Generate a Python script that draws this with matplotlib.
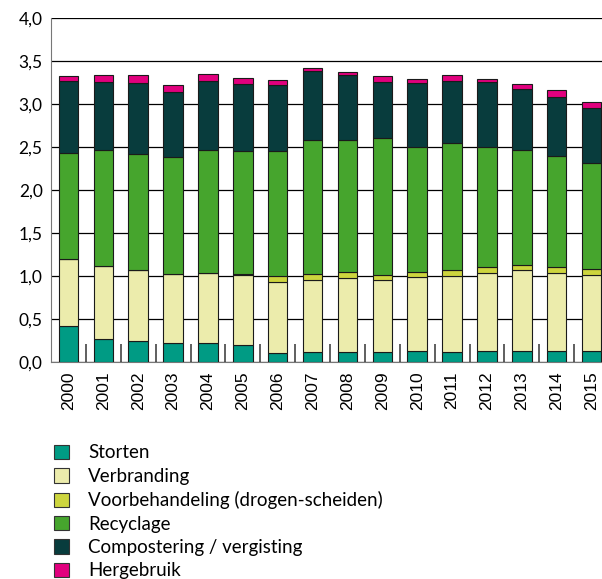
import matplotlib.pyplot as plt
from matplotlib.patches import Patch
from matplotlib.ticker import FixedLocator

jaren = [str(j) for j in range(2000, 2016)]

# hoeveelheden per verwerkingswijze
storten = [0.415, 0.264, 0.241, 0.221, 0.221, 0.202, 0.109, 0.120,
           0.120, 0.120, 0.124, 0.120, 0.124, 0.132, 0.124, 0.124]
verbranding = [0.785, 0.851, 0.831, 0.808, 0.816, 0.804, 0.823, 0.831,
               0.851, 0.831, 0.859, 0.878, 0.913, 0.936, 0.913, 0.890]
voorbehandeling = [0.0, 0.0, 0.0, 0.0, 0.0, 0.023, 0.066, 0.078,
                   0.074, 0.063, 0.069, 0.066, 0.062, 0.062, 0.070, 0.062]
recyclage = [1.227, 1.347, 1.347, 1.352, 1.425, 1.421, 1.452, 1.554,
             1.538, 1.596, 1.453, 1.480, 1.406, 1.332, 1.289, 1.242]
compostering = [0.843, 0.796, 0.824, 0.761, 0.804, 0.781, 0.769, 0.803,
                0.757, 0.648, 0.738, 0.726, 0.753, 0.715, 0.687, 0.633]
hergebruik = [0.054, 0.078, 0.093, 0.077, 0.082, 0.074, 0.063, 0.031,
              0.031, 0.066, 0.047, 0.066, 0.032, 0.054, 0.082, 0.078]

series = [
    ("Storten", storten, "#009b84"),
    ("Verbranding", verbranding, "#ececac"),
    ("Voorbehandeling (drogen-scheiden)", voorbehandeling, "#cdd53e"),
    ("Recyclage", recyclage, "#46a52d"),
    ("Compostering / vergisting", compostering, "#083c3d"),
    ("Hergebruik", hergebruik, "#e1007e"),
]

fig = plt.figure(figsize=(6.02, 5.79), dpi=100)
ax = fig.add_axes([51 / 602, 1 - 362 / 579, 558 / 602, 344 / 579])

x = list(range(len(jaren)))
onder = [0.0] * len(jaren)
handles = []
for naam, waarden, kleur in series:
    ax.bar(x, waarden, bottom=onder, width=0.56, color=kleur,
           edgecolor="#1a1a1a", linewidth=0.8, zorder=3)
    onder = [o + w for o, w in zip(onder, waarden)]
    handles.append(Patch(facecolor=kleur, edgecolor="#333333", linewidth=0.8, label=naam))

ax.set_xlim(-0.5, len(jaren) - 0.5)
ax.set_ylim(0, 4.0)
ax.set_yticks([i * 0.5 for i in range(9)])
ax.set_yticklabels([f"{i * 0.5:.1f}".replace(".", ",") for i in range(9)],
                   fontfamily="Lato", fontsize=12.5)
ax.set_xticks(x)
ax.set_xticklabels(jaren, rotation=90, fontfamily="Liberation Sans", fontsize=12.5)
ax.xaxis.set_minor_locator(FixedLocator([i + 0.5 for i in range(len(jaren) - 1)]))
ax.tick_params(axis="x", which="major", length=0, pad=7)
ax.tick_params(axis="x", which="minor", direction="in", length=13, color="#444444", width=1.2)
ax.tick_params(axis="y", length=0, pad=6)
ax.grid(axis="y", color="black", linewidth=0.9, zorder=0)
for kant in ["top", "right"]:
    ax.spines[kant].set_visible(False)
ax.spines["left"].set_color("#777777")
ax.spines["bottom"].set_color("#777777")

fig.legend(handles=handles, loc="upper left", bbox_to_anchor=(46 / 602, 1 - 437 / 579),
           frameon=False, prop={"family": "Lato", "size": 13.5},
           handlelength=0.8, handleheight=0.8, handletextpad=1.05,
           labelspacing=0.34, borderaxespad=0)

fig.savefig("out.png", dpi=100)
